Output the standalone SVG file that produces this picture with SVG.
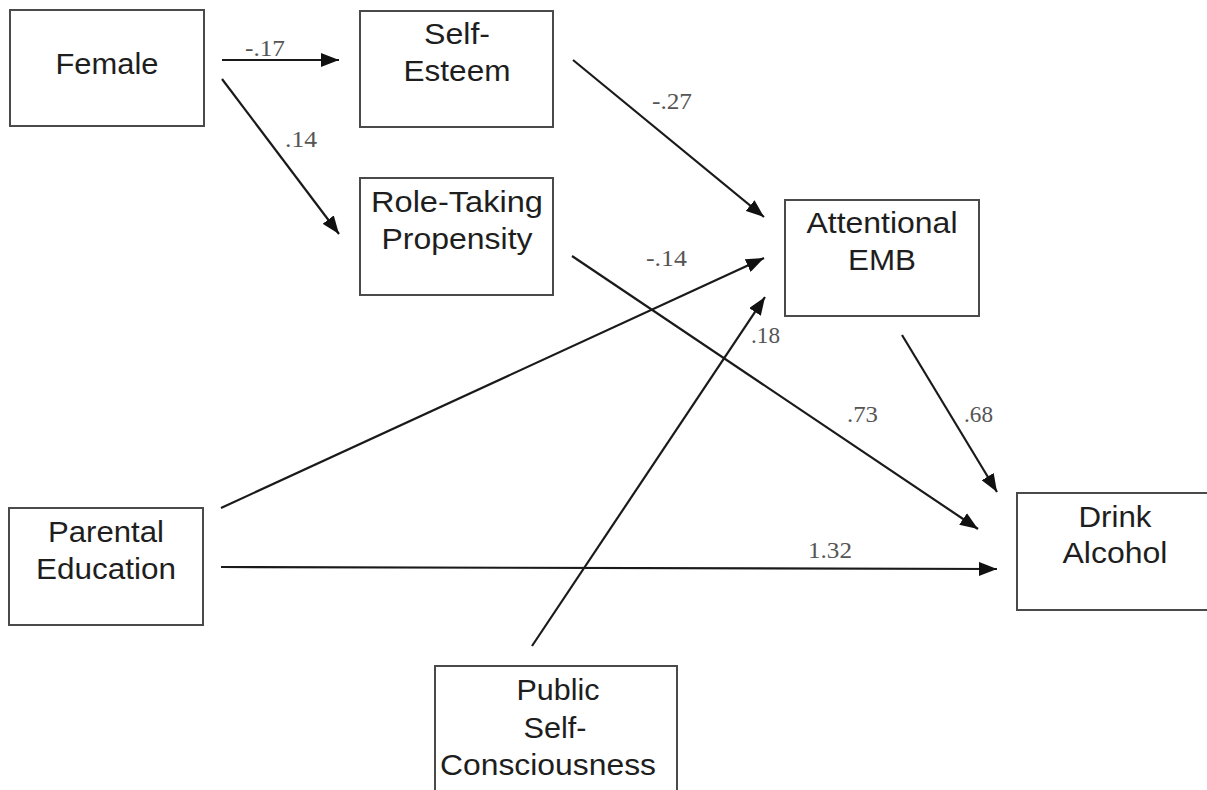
<svg xmlns="http://www.w3.org/2000/svg" width="1207" height="790" viewBox="0 0 1207 790">
<style>
.box{fill:#fff;stroke:#4a4a4a;stroke-width:2}
.t{font-family:"Liberation Sans",Arial,sans-serif;font-size:30px;fill:#1e1e1e;text-anchor:middle}
.lbl{font-family:"Liberation Serif","Times New Roman",serif;font-size:23px;fill:#555}
.e{stroke:#1a1a1a;stroke-width:2.2;fill:none;marker-end:url(#ah)}
</style>
<defs>
<marker id="ah" markerUnits="userSpaceOnUse" markerWidth="20" markerHeight="14" refX="18" refY="7" orient="auto">
<path d="M0,0 L18,7 L0,14 Z" fill="#111"/>
</marker>
</defs>
<rect width="1207" height="790" fill="#fff"/>
<g id="connectors">
<line class="e" x1="222" y1="60" x2="339" y2="60"/>
<line class="e" x1="222" y1="79" x2="339" y2="234"/>
<line class="e" x1="573" y1="60" x2="764" y2="217"/>
<line class="e" x1="572" y1="256" x2="978" y2="529"/>
<line class="e" x1="221" y1="508" x2="764" y2="258"/>
<line class="e" x1="532" y1="646" x2="765" y2="297"/>
<line class="e" x1="902" y1="335" x2="997" y2="492"/>
<line class="e" x1="221" y1="567" x2="997" y2="569"/>
<text class="lbl" x="245" y="56" textLength="40" lengthAdjust="spacingAndGlyphs">-.17</text>
<text class="lbl" x="285" y="147" textLength="32" lengthAdjust="spacingAndGlyphs">.14</text>
<text class="lbl" x="652" y="109" textLength="40" lengthAdjust="spacingAndGlyphs">-.27</text>
<text class="lbl" x="646" y="266" textLength="41" lengthAdjust="spacingAndGlyphs">-.14</text>
<text class="lbl" x="751" y="343" textLength="29" lengthAdjust="spacingAndGlyphs">.18</text>
<text class="lbl" x="847" y="422" textLength="31" lengthAdjust="spacingAndGlyphs">.73</text>
<text class="lbl" x="964" y="422" textLength="29" lengthAdjust="spacingAndGlyphs">.68</text>
<text class="lbl" x="808" y="558" textLength="44" lengthAdjust="spacingAndGlyphs">1.32</text>
</g>
<g id="female">
<rect class="box" x="10" y="10" width="194" height="116"/>
<text class="t" x="107" y="74" textLength="103" lengthAdjust="spacingAndGlyphs">Female</text>
</g>
<g id="self-esteem">
<rect class="box" x="360" y="11" width="193" height="116"/>
<text class="t" x="457" y="44" textLength="66" lengthAdjust="spacingAndGlyphs">Self-</text>
<text class="t" x="457" y="81" textLength="107" lengthAdjust="spacingAndGlyphs">Esteem</text>
</g>
<g id="role-taking">
<rect class="box" x="360" y="178" width="193" height="117"/>
<text class="t" x="457" y="212" textLength="172" lengthAdjust="spacingAndGlyphs">Role-Taking</text>
<text class="t" x="457" y="249" textLength="151" lengthAdjust="spacingAndGlyphs">Propensity</text>
</g>
<g id="attentional-emb">
<rect class="box" x="785" y="200" width="194" height="116"/>
<text class="t" x="882" y="233" textLength="151" lengthAdjust="spacingAndGlyphs">Attentional</text>
<text class="t" x="882" y="270" textLength="68" lengthAdjust="spacingAndGlyphs">EMB</text>
</g>
<g id="parental-education">
<rect class="box" x="9" y="508" width="194" height="117"/>
<text class="t" x="106" y="542" textLength="116" lengthAdjust="spacingAndGlyphs">Parental</text>
<text class="t" x="106" y="579" textLength="140" lengthAdjust="spacingAndGlyphs">Education</text>
</g>
<g id="drink-alcohol">
<rect class="box" x="1017" y="493" width="194" height="117"/>
<text class="t" x="1115" y="527" textLength="73" lengthAdjust="spacingAndGlyphs">Drink</text>
<text class="t" x="1115" y="563" textLength="105" lengthAdjust="spacingAndGlyphs">Alcohol</text>
</g>
<g id="public-self-consciousness">
<rect class="box" x="435" y="666" width="242" height="126"/>
<text class="t" x="558" y="700" textLength="83" lengthAdjust="spacingAndGlyphs">Public</text>
<text class="t" x="555" y="738" textLength="63" lengthAdjust="spacingAndGlyphs">Self-</text>
<text class="t" x="548" y="775" textLength="216" lengthAdjust="spacingAndGlyphs">Consciousness</text>
</g>
</svg>
